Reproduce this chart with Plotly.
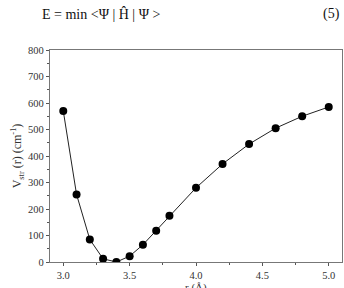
import plotly.graph_objects as go

r_values = [3.0, 3.1, 3.2, 3.3, 3.4, 3.5, 3.6, 3.7, 3.8, 4.0, 4.2, 4.4, 4.6, 4.8, 5.0]
v_values = [570, 255, 85, 12, 0, 22, 65, 118, 175, 280, 370, 445, 505, 550, 585]
x_ticks = [3.0, 3.5, 4.0, 4.5, 5.0]
x_tick_labels = ["3.0", "3.5", "4.0", "4.5", "5.0"]
y_ticks = [0, 100, 200, 300, 400, 500, 600, 700, 800]

FONT = "Liberation Serif"

fig = go.Figure()
fig.add_trace(go.Scatter(
    x=r_values, y=v_values, mode="lines+markers",
    line=dict(color="#222222", width=1),
    marker=dict(color="black", size=8),
    showlegend=False,
))

axis_common = dict(
    showline=True, linecolor="#777777", linewidth=1.2, mirror=True,
    showgrid=False, zeroline=False, automargin=False,
    ticks="outside", ticklen=3, tickcolor="#555555",
    tickfont=dict(family=FONT, size=10.5, color="#333333"),
)

fig.update_xaxes(
    range=[2.9, 5.1], tickvals=x_ticks, ticktext=x_tick_labels,
    minor=dict(dtick=0.25, ticks="outside", ticklen=2, tickcolor="#555555"),
    **axis_common,
)
fig.update_yaxes(
    range=[0, 800], tickvals=y_ticks,
    minor=dict(dtick=50, ticks="outside", ticklen=2, tickcolor="#555555"),
    title=dict(text="V<sub>str</sub> (r) (cm<sup>-1</sup>)",
               font=dict(family=FONT, size=12, color="#333333"), standoff=3),
    **axis_common,
)

fig.add_annotation(
    text="r (Å)", xref="paper", yref="paper",
    x=0.5, y=-0.082, xanchor="center", yanchor="top", showarrow=False,
    font=dict(family=FONT, size=11, color="#333333"),
)
fig.add_annotation(
    text="E = min <Ψ | H\u0302 | Ψ >", xref="paper", yref="paper",
    x=-0.035, y=1.17, xanchor="left", yanchor="middle", showarrow=False,
    font=dict(family=FONT, size=14, color="#111111"),
)
fig.add_annotation(
    text="(5)", xref="paper", yref="paper",
    x=1.0, y=1.17, xanchor="right", yanchor="middle", showarrow=False,
    font=dict(family=FONT, size=14, color="#111111"),
)

fig.update_layout(
    width=344, height=288,
    margin=dict(l=50, r=2, t=50, b=26),
    paper_bgcolor="white", plot_bgcolor="white",
    font=dict(family=FONT),
)

fig.write_html("out.html")
